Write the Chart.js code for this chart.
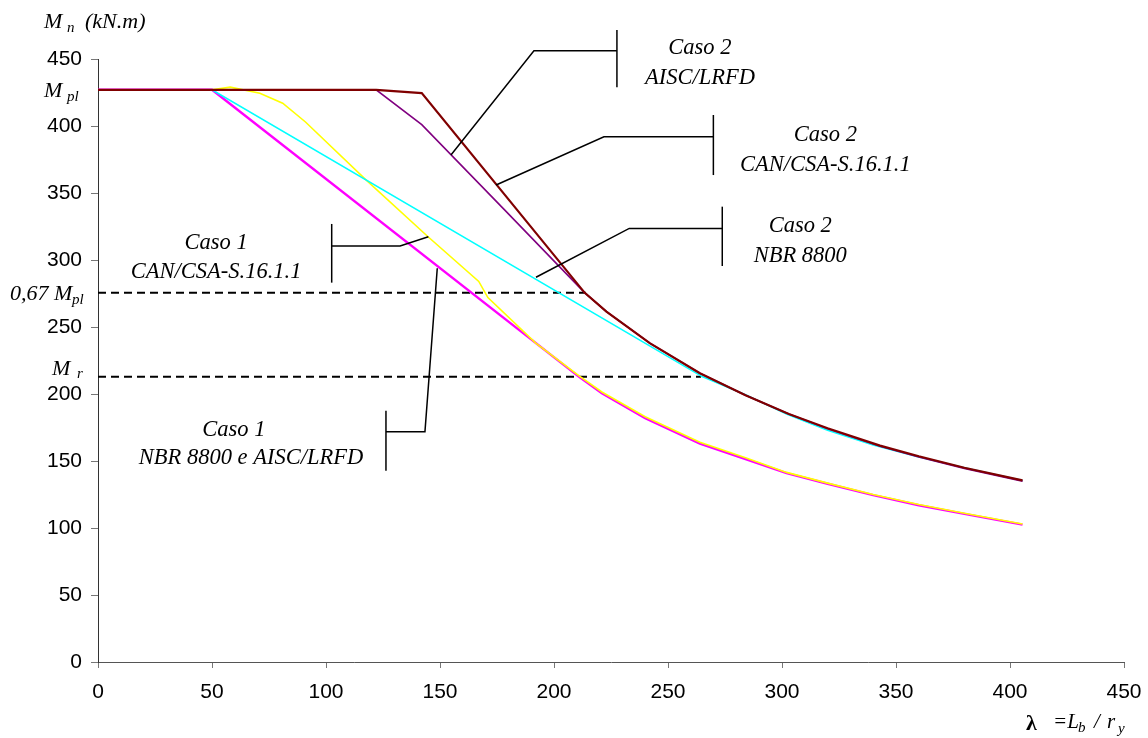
<!DOCTYPE html>
<html>
<head>
<meta charset="utf-8">
<script src="https://cdn.jsdelivr.net/npm/chart.js@4/dist/chart.umd.min.js"></script>
<style>
    html, body { margin: 0; padding: 0; background: #fff; }
    #contenedor { width: 1148px; height: 738px; }
</style>
</head>
<body>
<div id="contenedor"><canvas id="grafica" width="1148" height="738"></canvas></div>
<script>
// DATOS

const ticksX = [0, 50, 100, 150, 200, 250, 300, 350, 400, 450];
const ticksY = [0, 50, 100, 150, 200, 250, 300, 350, 400, 450];

// Caso 2 AISC/LRFD (granate)
const lambdaCaso2AISC = [0, 122, 142, 213.5, 223, 242, 264, 284, 303, 320, 343, 360, 380, 405.5];
const mnCaso2AISC     = [427, 427, 424.5, 275.5, 261.5, 238, 215.5, 199, 185, 174.5, 161.5, 153.5, 145, 135.5];

// Caso 2 CAN/CSA-S.16.1.1 (morado)
const lambdaCaso2CAN = [0, 122, 142, 178, 213.5, 223, 242, 264, 284, 303, 320, 343, 360, 380, 405.5];
const mnCaso2CAN     = [427, 427, 401, 338, 275.5, 261.5, 238, 215.5, 199, 185, 174, 161, 153, 144.5, 135];

// Caso 2 NBR 8800 (cian)
const lambdaCaso2NBR = [0, 50, 265, 284, 302, 320, 340, 360, 380, 405.5];
const mnCaso2NBR     = [427, 427, 213, 199.5, 185, 173, 162, 153, 145, 135.5];

// Caso 1 CAN/CSA-S.16.1.1 (amarillo)
const lambdaCaso1CAN = [0, 50, 58, 71, 81, 91, 118, 145, 167, 171, 192, 211, 221, 240, 264, 284, 302, 320, 340, 360, 380, 405.5];
const mnCaso1CAN     = [427, 427, 429, 424.5, 417, 403, 359, 317, 284, 272, 238, 213.5, 201.5, 183, 164, 152.5, 141.5, 133.5, 125, 117.5, 111, 103];

// Caso 1 NBR 8800 e AISC/LRFD (magenta)
const lambdaCaso1NBR = [0, 50, 211, 221, 240, 264, 284, 302, 320, 340, 360, 380, 405.5];
const mnCaso1NBR     = [427, 427, 212.8, 200.5, 182, 163, 151.5, 141, 133, 124.5, 117, 110.5, 102.5];

// Referencias
const mPl = 427;
const m067Pl = 275.5;
const mR = 212.8;
const lambdaFin067 = 214;
const lambdaFinMr = 264.5;


// UTILIDADES

function puntos(xs, ys) {
    return xs.map((x, i) => ({ x: x, y: ys[i] }));
}

const fuenteEje = { family: "'Liberation Sans', Arial, sans-serif", size: 21 };
const serif = "'Liberation Serif', 'Times New Roman', serif";

// anotaciones en coordenadas de datos
const anotaciones = [
    { guia: [[154.8, 378.4], [191.2, 456.2], [227.6, 456.2]], barra: [227.6, 471.6, 428.9],
      texto: [["Caso 2", 264, 458.2], ["AISC/LRFD", 264, 436]] },
    { guia: [[174.6, 356], [221.9, 392], [269.9, 392]], barra: [269.9, 408.2, 363.4],
      texto: [["Caso 2", 319, 393.3], ["CAN/CSA-S.16.1.1", 319, 371]] },
    { guia: [[192.1, 287.1], [233, 323.6], [273.8, 323.6]], barra: [273.8, 339.8, 295.5],
      texto: [["Caso 2", 308, 325.4], ["NBR 8800", 308, 303]] },
    { guia: [[144.9, 317.4], [132.5, 310.4], [102.5, 310.4]], barra: [102.5, 326.9, 283.1],
      texto: [["Caso 1", 51.8, 312.7], ["CAN/CSA-S.16.1.1", 51.8, 291]] },
    { guia: [[148.8, 293.8], [143.4, 171.9], [126.3, 171.9]], barra: [126.3, 187.5, 142.8],
      texto: [["Caso 1", 59.6, 173.1], ["NBR 8800 e AISC/LRFD", 67.1, 152.2]] }
];

function escribir(ctx, partes) {
    partes.forEach(p => {
        ctx.font = (p.b ? "bold " : "italic ") + p.s + "px " + serif;
        ctx.fillText(p.t, p.x, p.y);
    });
}

const pluginAnotaciones = {
    id: 'anotaciones',
    afterDraw(chart) {
        const ctx = chart.ctx;
        const sx = chart.scales.x;
        const sy = chart.scales.y;
        ctx.save();
        ctx.strokeStyle = '#000';
        ctx.fillStyle = '#000';
        ctx.lineWidth = 1.5;

        anotaciones.forEach(a => {
            ctx.beginPath();
            a.guia.forEach((p, i) => {
                const px = sx.getPixelForValue(p[0]);
                const py = sy.getPixelForValue(p[1]);
                if (i === 0) ctx.moveTo(px, py); else ctx.lineTo(px, py);
            });
            ctx.stroke();
            ctx.beginPath();
            ctx.moveTo(sx.getPixelForValue(a.barra[0]), sy.getPixelForValue(a.barra[1]));
            ctx.lineTo(sx.getPixelForValue(a.barra[0]), sy.getPixelForValue(a.barra[2]));
            ctx.stroke();
            ctx.font = "italic 22.5px " + serif;
            ctx.textAlign = 'center';
            ctx.textBaseline = 'middle';
            a.texto.forEach(t => {
                ctx.fillText(t[0], sx.getPixelForValue(t[1]), sy.getPixelForValue(t[2]));
            });
        });

        // etiquetas del eje y
        ctx.textAlign = 'left';
        ctx.textBaseline = 'alphabetic';
        const yPl = sy.getPixelForValue(mPl);
        const y067 = sy.getPixelForValue(m067Pl);
        const yR = sy.getPixelForValue(mR);
        escribir(ctx, [
            { t: "M", s: 22, x: 44, y: 28 },
            { t: "n", s: 15, x: 67, y: 32 },
            { t: "(kN.m)", s: 22, x: 85, y: 28 },
            { t: "M", s: 22, x: 44, y: yPl + 7 },
            { t: "pl", s: 15, x: 67, y: yPl + 11 },
            { t: "0,67 M", s: 22, x: 10, y: y067 + 7 },
            { t: "pl", s: 15, x: 72, y: y067 + 11 },
            { t: "M", s: 22, x: 52, y: yR - 2 },
            { t: "r", s: 15, x: 77, y: yR + 1 },
            // titulo eje x
            { t: "λ", s: 22, x: 1026, y: 730, b: true },
            { t: "=L", s: 21, x: 1053, y: 728 },
            { t: "b", s: 15, x: 1078, y: 732 },
            { t: "/", s: 21, x: 1094, y: 728 },
            { t: "r", s: 21, x: 1107, y: 728 },
            { t: "y", s: 15, x: 1118, y: 733 }
        ]);
        ctx.restore();
    }
};


// GRAFICA

const series = [
    { data: puntos(lambdaCaso2AISC, mnCaso2AISC), borderColor: '#800000', borderWidth: 2.2 },
    { data: puntos(lambdaCaso2CAN, mnCaso2CAN), borderColor: '#800080', borderWidth: 1.6 },
    { data: puntos(lambdaCaso2NBR, mnCaso2NBR), borderColor: '#00FFFF', borderWidth: 1.6 },
    { data: puntos(lambdaCaso1CAN, mnCaso1CAN), borderColor: '#FFFF00', borderWidth: 1.6 },
    { data: puntos(lambdaCaso1NBR, mnCaso1NBR), borderColor: '#FF00FF', borderWidth: 2.4 },
    { data: puntos([0, lambdaFin067], [m067Pl, m067Pl]), borderColor: '#000', borderWidth: 2, borderDash: [8, 5] },
    { data: puntos([0, lambdaFinMr], [mR, mR]), borderColor: '#000', borderWidth: 2, borderDash: [8, 5] }
];

series.forEach(s => {
    s.pointRadius = 0;
    s.fill = false;
    s.tension = 0;
    s.borderCapStyle = 'butt';
});

new Chart(document.getElementById('grafica').getContext('2d'), {
    type: 'line',
    data: { datasets: series },
    options: {
        responsive: false,
        animation: false,
        layout: { padding: { top: 59, right: 24, left: 0, bottom: 0 } },
        plugins: { legend: { display: false }, tooltip: { enabled: false } },
        scales: {
            x: {
                type: 'linear',
                min: ticksX[0],
                max: ticksX[ticksX.length - 1],
                afterBuildTicks: (scale) => { scale.ticks = ticksX.map(v => ({ value: v })); },
                afterFit: (scale) => {
                    scale.height = 76;
                    scale.paddingLeft = 0;
                    scale.paddingRight = 0;
                },
                ticks: { font: fuenteEje, color: '#000', padding: 12, maxRotation: 0 },
                grid: { drawOnChartArea: false, tickLength: 6, color: '#777' },
                border: { color: '#555', width: 1 }
            },
            y: {
                type: 'linear',
                min: ticksY[0],
                max: ticksY[ticksY.length - 1],
                afterBuildTicks: (scale) => { scale.ticks = ticksY.map(v => ({ value: v })); },
                afterFit: (scale) => {
                    scale.width = 98;
                    scale.paddingTop = 0;
                    scale.paddingBottom = 0;
                },
                ticks: { font: fuenteEje, color: '#000', padding: 9 },
                grid: { drawOnChartArea: false, tickLength: 7, color: '#777' },
                border: { color: '#333', width: 1 }
            }
        }
    },
    plugins: [pluginAnotaciones]
});
</script>
</body>
</html>
